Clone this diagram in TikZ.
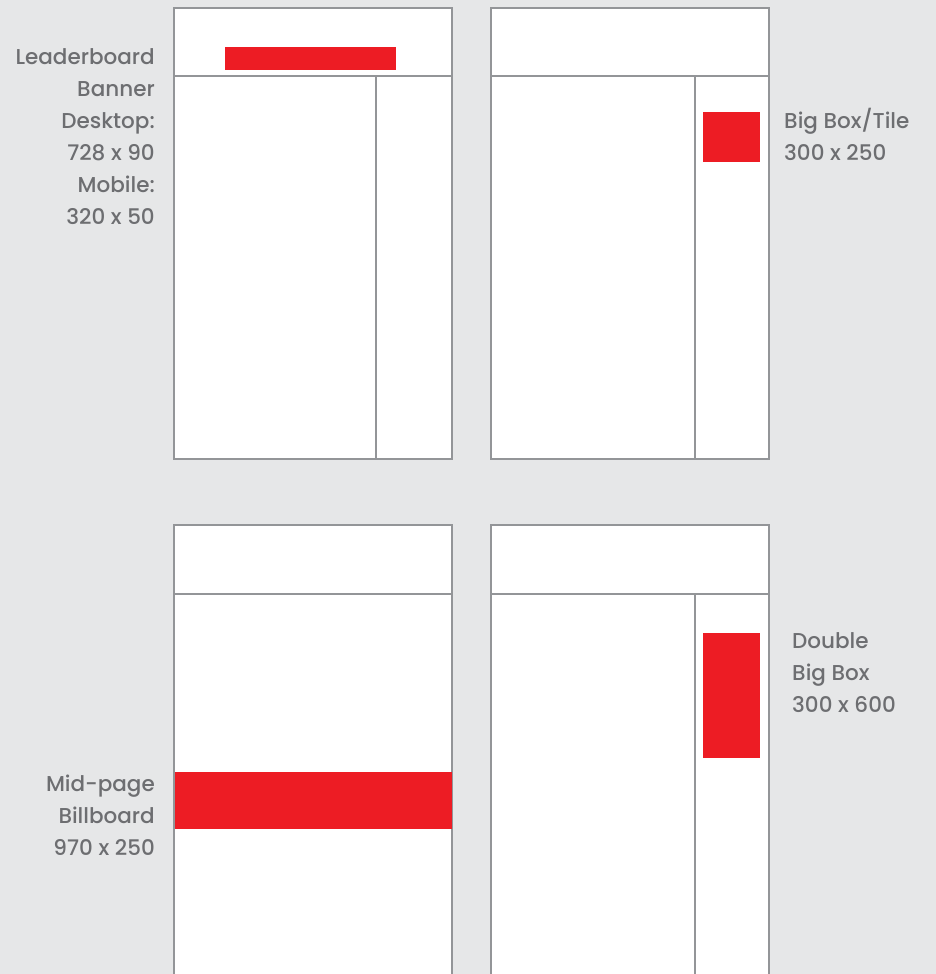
\documentclass[tikz,border=0pt]{standalone}
\usepackage{fontspec}
\setmainfont{Poppins Medium}
\usepackage{xcolor}
\usetikzlibrary{positioning}

\definecolor{pagebg}{HTML}{E6E7E8}
\definecolor{framegray}{HTML}{939598}
\definecolor{adred}{HTML}{ED1C24}
\definecolor{labelgray}{HTML}{6D6E71}

\begin{document}
\begin{tikzpicture}[
    x=1pt, y=-1pt,
    frame/.style={draw=framegray, line width=2pt, fill=white},
    rule/.style={draw=framegray, line width=2pt},
    ad/.style={fill=adred},
    lbl/.style={inner sep=0pt, text=labelgray, font=\fontsize{21.5}{32}\selectfont}
]
    % Canvas
    \fill[pagebg] (0,0) rectangle (936,974);
    \useasboundingbox (0,0) rectangle (936,974);
    \clip (0,0) rectangle (936,974);

    % Top left page: leaderboard
    \draw[frame] (174,8) rectangle (452,459);
    \draw[rule] (174,76) -- (452,76);
    \draw[rule] (376,76) -- (376,459);
    \fill[ad] (225,47) rectangle (396,70);
    \node[lbl, anchor=base east, align=right] (leader) at (155,224)
        {Leaderboard\\Banner\\Desktop:\\728 x 90\\Mobile:\\320 x 50};

    % Top right page: big box
    \draw[frame] (491,8) rectangle (769,459);
    \draw[rule] (491,76) -- (769,76);
    \draw[rule] (695,76) -- (695,459);
    \fill[ad] (703,112) rectangle (760,162);
    \node[lbl, anchor=base west, align=left] (bigbox) at (784,160)
        {Big Box/Tile\\300 x 250};

    % Bottom left page: billboard
    \draw[frame] (174,525) rectangle (452,990);
    \draw[rule] (174,594) -- (452,594);
    \fill[ad] (175,772) rectangle (452,829);
    \node[lbl, anchor=base east, align=right] (billboard) at (155,855)
        {Mid-page\\Billboard\\970 x 250};

    % Bottom right page: double big box
    \draw[frame] (491,525) rectangle (769,990);
    \draw[rule] (491,594) -- (769,594);
    \draw[rule] (695,594) -- (695,990);
    \fill[ad] (703,633) rectangle (760,758);
    \node[lbl, anchor=base west, align=left] (doublebox) at (792,712)
        {Double\\Big Box\\300 x 600};
\end{tikzpicture}
\end{document}
